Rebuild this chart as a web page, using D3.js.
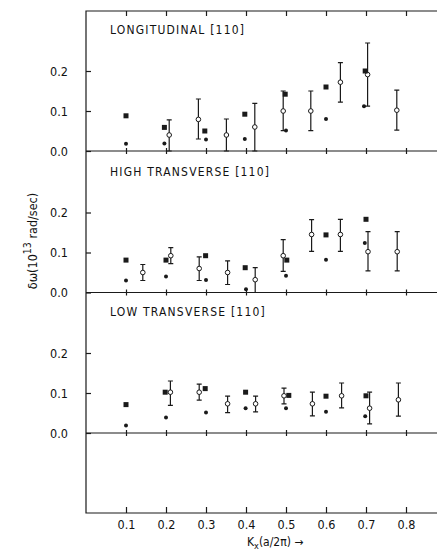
<!DOCTYPE html>
<html>
<head>
<meta charset="utf-8">
<script src="https://cdn.jsdelivr.net/npm/d3@7"></script>
<style>
  body { margin: 0; background: #fff; }
  svg { display: block; }
  text { font-family: "DejaVu Sans Condensed", "Liberation Sans Narrow", "DejaVu Sans", sans-serif; fill: #111; }
</style>
</head>
<body>
<div id="chart"></div>
<script>
// x tick labels (K_x in units of a/2pi)
const xTicks = [0.1, 0.2, 0.3, 0.4, 0.5, 0.6, 0.7, 0.8];
const yTicks = [0.0, 0.1, 0.2];
const panelNames = ["LONGITUDINAL [110]", "HIGH TRANSVERSE [110]", "LOW TRANSVERSE [110]"];

// each point: [kx, dOmega]; open points: [kx, dOmega, low, high]
const longSquares = [[0.1, 0.088], [0.196, 0.059], [0.297, 0.05], [0.397, 0.092], [0.498, 0.142], [0.6, 0.16], [0.698, 0.2]];
const longDots = [[0.1, 0.018], [0.196, 0.019], [0.3, 0.029], [0.397, 0.03], [0.5, 0.051], [0.6, 0.08], [0.695, 0.112]];
const longOpen = [[0.208, 0.04, 0.0, 0.078], [0.281, 0.079, 0.03, 0.13], [0.351, 0.04, 0.0, 0.08], [0.422, 0.06, 0.0, 0.119],
  [0.493, 0.1, 0.051, 0.15], [0.562, 0.1, 0.051, 0.15], [0.636, 0.172, 0.122, 0.221], [0.704, 0.191, 0.112, 0.27], [0.777, 0.102, 0.052, 0.152]];

const highSquares = [[0.1, 0.081], [0.2, 0.081], [0.299, 0.092], [0.398, 0.062], [0.502, 0.081], [0.6, 0.144], [0.7, 0.183]];
const highDots = [[0.1, 0.03], [0.2, 0.04], [0.3, 0.031], [0.4, 0.008], [0.5, 0.042], [0.6, 0.082], [0.697, 0.124]];
const highOpen = [[0.142, 0.05, 0.03, 0.07], [0.212, 0.092, 0.072, 0.112], [0.283, 0.06, 0.03, 0.089], [0.354, 0.05, 0.02, 0.079],
  [0.423, 0.032, 0.0, 0.062], [0.493, 0.092, 0.053, 0.132], [0.564, 0.145, 0.103, 0.182], [0.636, 0.145, 0.103, 0.183],
  [0.705, 0.102, 0.054, 0.152], [0.778, 0.102, 0.054, 0.152]];

const lowSquares = [[0.1, 0.071], [0.198, 0.102], [0.298, 0.111], [0.399, 0.102], [0.507, 0.094], [0.6, 0.092], [0.7, 0.093]];
const lowDots = [[0.1, 0.019], [0.2, 0.039], [0.3, 0.051], [0.399, 0.062], [0.5, 0.062], [0.6, 0.053], [0.698, 0.042]];
const lowOpen = [[0.211, 0.102, 0.069, 0.13], [0.283, 0.102, 0.082, 0.122], [0.354, 0.073, 0.051, 0.092], [0.424, 0.073, 0.053, 0.092],
  [0.495, 0.093, 0.073, 0.112], [0.566, 0.073, 0.043, 0.102], [0.639, 0.093, 0.063, 0.125], [0.709, 0.062, 0.023, 0.102], [0.781, 0.083, 0.042, 0.125]];

const panels = [
  { name: panelNames[0], squares: longSquares, dots: longDots, open: longOpen },
  { name: panelNames[1], squares: highSquares, dots: highDots, open: highOpen },
  { name: panelNames[2], squares: lowSquares, dots: lowDots, open: lowOpen }
];

const labelFont = '"DejaVu Sans Condensed", "Liberation Sans Narrow", sans-serif';

function drawChart() {
  const W = 437, H = 556;
  const left = 86, right = 446, top = 11, bottom = 513;
  const baselines = [151, 292.5, 433];

  const svg = d3.select("#chart").append("svg")
    .attr("width", W).attr("height", H);
  svg.append("rect").attr("width", W).attr("height", H).attr("fill", "#fff");

  const x = d3.scaleLinear().domain([0, 0.9]).range([left, right]);
  const ink = "#1a1a1a";

  // frame
  svg.append("path")
    .attr("d", `M${right},${top}H${left}V${bottom}H${right}`)
    .attr("fill", "none").attr("stroke", ink).attr("stroke-width", 1.2);

  // top ticks pointing down
  svg.append("g").attr("transform", `translate(0,${top})`)
    .call(d3.axisTop(x).tickValues(xTicks).tickSize(-5).tickFormat(""))
    .call(g => g.select(".domain").remove())
    .selectAll("line").attr("stroke", ink).attr("stroke-width", 1.2);

  // bottom axis, ticks pointing up
  svg.append("g").attr("transform", `translate(0,${bottom})`)
    .call(d3.axisBottom(x).tickValues(xTicks).tickSize(-6).tickPadding(7).tickFormat(d3.format(".1f")))
    .call(g => g.select(".domain").remove())
    .call(g => g.selectAll("line").attr("stroke", ink).attr("stroke-width", 1.2))
    .call(g => g.selectAll("text").attr("font-size", 12.5).attr("fill", ink).style("font-family", labelFont));

  panels.forEach((p, i) => {
    const base = baselines[i];
    const y = d3.scaleLinear().domain([0, 0.2]).range([base, base - 80]);
    const g = svg.append("g");

    // zero line across the panel
    g.append("line")
      .attr("x1", left).attr("x2", right)
      .attr("y1", y(0)).attr("y2", y(0))
      .attr("stroke", ink).attr("stroke-width", 1.2);

    // ticks crossing the zero line
    g.append("g").attr("transform", `translate(0,${y(0) - 3})`)
      .call(d3.axisBottom(x).tickValues(xTicks).tickSize(6).tickFormat(""))
      .call(a => a.select(".domain").remove())
      .selectAll("line").attr("stroke", ink).attr("stroke-width", 1.2);

    // y axis: ticks inside, labels outside
    g.append("g").attr("transform", `translate(${left},0)`)
      .call(d3.axisLeft(y).tickValues(yTicks).tickSize(-5).tickPadding(18).tickFormat(d3.format(".1f")))
      .call(a => a.select(".domain").remove())
      .call(a => a.selectAll("line").attr("stroke", ink).attr("stroke-width", 1.2))
      .call(a => a.selectAll("text").attr("font-size", 12.5).attr("fill", ink).style("font-family", labelFont));

    // panel title
    g.append("text")
      .attr("x", 110).attr("y", y(0) - 117)
      .attr("font-size", 12)
      .attr("letter-spacing", 1.2)
      .text(p.name);

    // error bars
    const cap = 2.5;
    g.selectAll(".err").data(p.open).enter().append("path")
      .attr("d", d => `M${x(d[0])},${y(d[2])}V${y(d[3])}M${x(d[0]) - cap},${y(d[2])}h${2 * cap}M${x(d[0]) - cap},${y(d[3])}h${2 * cap}`)
      .attr("stroke", ink).attr("stroke-width", 1.2).attr("fill", "none");

    g.selectAll(".open").data(p.open).enter().append("circle")
      .attr("cx", d => x(d[0])).attr("cy", d => y(d[1]))
      .attr("r", 2.3)
      .attr("fill", "#fff").attr("stroke", ink).attr("stroke-width", 1);

    g.selectAll(".sq").data(p.squares).enter().append("rect")
      .attr("x", d => x(d[0]) - 2.5).attr("y", d => y(d[1]) - 2.5)
      .attr("width", 5).attr("height", 5)
      .attr("fill", ink);

    g.selectAll(".dot").data(p.dots).enter().append("circle")
      .attr("cx", d => x(d[0])).attr("cy", d => y(d[1]))
      .attr("r", 2)
      .attr("fill", ink);
  });

  // y axis title
  const yt = svg.append("text")
    .attr("transform", "translate(37,241) rotate(-90)")
    .attr("text-anchor", "middle")
    .attr("font-size", 12.5);
  yt.append("tspan").text("δω(10");
  yt.append("tspan").attr("dy", -6).attr("font-size", 10.5).text("13");
  yt.append("tspan").attr("dy", 6).text(" rad/sec)");

  // x axis title
  const xt = svg.append("text")
    .attr("x", 247).attr("y", 546)
    .attr("font-size", 12);
  xt.append("tspan").text("K");
  xt.append("tspan").attr("dy", 3).attr("font-size", 9).text("x");
  xt.append("tspan").attr("dy", -3).text("(a/2π) →");
}

drawChart();
</script>
</body>
</html>
